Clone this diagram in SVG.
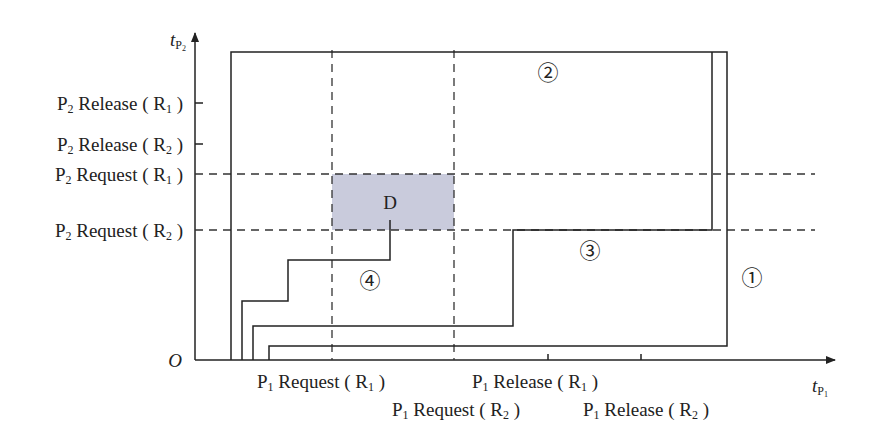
<svg xmlns="http://www.w3.org/2000/svg" width="885" height="432" viewBox="0 0 885 432">
<style>
text{font-family:"Liberation Serif","DejaVu Serif",serif;font-size:19px;fill:#222}
.s{font-size:12px}
.c{font-family:"Noto Sans CJK SC",sans-serif;font-size:21px}
.l{fill:none;stroke:#222;stroke-width:1.5}
.d{fill:none;stroke:#333;stroke-width:1.3;stroke-dasharray:8 6}
</style>
<defs><marker id="a" markerWidth="10" markerHeight="10" refX="9" refY="5" orient="auto" markerUnits="userSpaceOnUse"><path d="M0,1 L10,5 L0,9 z" fill="#222"/></marker></defs>
<rect id="D-region" x="332" y="174" width="122" height="56" fill="#c9cbdc"/>
<g id="axes">
<line class="l" x1="195" y1="360" x2="195" y2="33" marker-end="url(#a)"/>
<line class="l" x1="195" y1="360" x2="835" y2="360" marker-end="url(#a)"/>
<path class="l" d="M195,103h8M195,144h8M548,360v-6M641,360v-6"/>
</g>
<g id="grid">
<path class="d" d="M195,174H815M195,230H815M332,50V360M454,50V360"/>
</g>
<g id="connectors">
<path class="l" d="M231,360V52H727V346H269V360"/>
<path class="l" d="M253,360V326H513V230H712V52"/>
<path class="l" d="M242,360V301H288V260H390V220"/>
</g>
<g id="labels">
<text x="186" y="46" font-style="italic" text-anchor="end">t<tspan class="s" font-style="normal" dy="3">P</tspan><tspan font-style="normal" font-size="8" dy="2">2</tspan></text>
<text x="812" y="392" font-style="italic">t<tspan class="s" font-style="normal" dy="3">P</tspan><tspan font-style="normal" font-size="8" dy="2">1</tspan></text>
<text x="182" y="367" font-style="italic" text-anchor="end">O</text>
<g text-anchor="end">
<text x="183" y="110">P<tspan class="s" dy="3">2</tspan><tspan dy="-3"> Release ( R</tspan><tspan class="s" dy="3">1</tspan><tspan dy="-3"> )</tspan></text>
<text x="183" y="151">P<tspan class="s" dy="3">2</tspan><tspan dy="-3"> Release ( R</tspan><tspan class="s" dy="3">2</tspan><tspan dy="-3"> )</tspan></text>
<text x="183" y="181">P<tspan class="s" dy="3">2</tspan><tspan dy="-3"> Request ( R</tspan><tspan class="s" dy="3">1</tspan><tspan dy="-3"> )</tspan></text>
<text x="183" y="237">P<tspan class="s" dy="3">2</tspan><tspan dy="-3"> Request ( R</tspan><tspan class="s" dy="3">2</tspan><tspan dy="-3"> )</tspan></text>
</g>
<text x="257" y="388">P<tspan class="s" dy="3">1</tspan><tspan dy="-3"> Request  ( R</tspan><tspan class="s" dy="3">1</tspan><tspan dy="-3"> )</tspan></text>
<text x="472" y="388">P<tspan class="s" dy="3">1</tspan><tspan dy="-3"> Release  ( R</tspan><tspan class="s" dy="3">1</tspan><tspan dy="-3"> )</tspan></text>
<text x="392" y="416">P<tspan class="s" dy="3">1</tspan><tspan dy="-3"> Request  ( R</tspan><tspan class="s" dy="3">2</tspan><tspan dy="-3"> )</tspan></text>
<text x="583" y="416">P<tspan class="s" dy="3">1</tspan><tspan dy="-3"> Release  ( R</tspan><tspan class="s" dy="3">2</tspan><tspan dy="-3"> )</tspan></text>
<text x="390" y="209" text-anchor="middle">D</text>
<text class="c" x="548" y="80" text-anchor="middle">②</text>
<text class="c" x="590" y="258" text-anchor="middle">③</text>
<text class="c" x="370" y="288" text-anchor="middle">④</text>
<text class="c" x="752" y="285" text-anchor="middle">①</text>
</g>
</svg>
